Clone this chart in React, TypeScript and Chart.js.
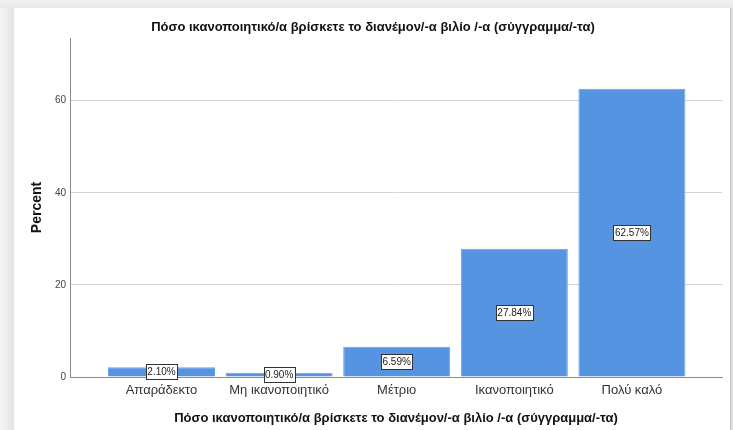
import React, { useEffect, useRef } from "react";
import { Chart, registerables } from "chart.js";

Chart.register(...registerables);

const TITLE = "Πόσο ικανοποιητικό/α βρίσκετε το διανέμον/-α βιλίο /-α (σύγγραμμα/-τα)";
const Y_TITLE = "Percent";
const categories = ["Απαράδεκτο", "Μη ικανοποιητικό", "Μέτριο", "Ικανοποιητικό", "Πολύ καλό"];
const percents = [2.1, 0.9, 6.59, 27.84, 62.57];
const valueLabels = ["2.10%", "0.90%", "6.59%", "27.84%", "62.57%"];
const yTicks = [0, 20, 40, 60];

const FONT = "'Liberation Sans', Arial, sans-serif";

const backgroundPlugin = {
  id: "panelBackground",
  beforeDraw(chart: any) {
    const ctx = chart.ctx;
    const w = chart.width;
    const h = chart.height;
    ctx.save();
    ctx.fillStyle = "#ececec";
    ctx.fillRect(0, 0, w, h);
    const g = ctx.createLinearGradient(0, 0, 14, 0);
    g.addColorStop(0, "#f6f6f6");
    g.addColorStop(1, "#e4e4e4");
    ctx.fillStyle = g;
    ctx.fillRect(0, 8, 14, h - 8);
    const gt = ctx.createLinearGradient(0, 0, 0, 8);
    gt.addColorStop(0, "#f2f2f2");
    gt.addColorStop(1, "#e6e6e6");
    ctx.fillStyle = gt;
    ctx.fillRect(0, 0, w, 8);
    ctx.fillStyle = "#ffffff";
    ctx.fillRect(14, 8, 716, h - 8);
    ctx.fillStyle = "#c4c4c4";
    ctx.fillRect(730, 8, 1, h - 8);
    ctx.fillStyle = "#e2e2e2";
    ctx.fillRect(731, 8, 2, h - 8);
    ctx.restore();
  },
};

const valueLabelPlugin = {
  id: "valueLabels",
  afterDatasetsDraw(chart: any) {
    const ctx = chart.ctx;
    const meta = chart.getDatasetMeta(0);
    ctx.save();
    ctx.font = `10px ${FONT}`;
    ctx.textAlign = "center";
    ctx.textBaseline = "middle";
    meta.data.forEach((bar: any, i: number) => {
      const text = valueLabels[i];
      const cx = bar.x;
      const cy = (bar.y + bar.base) / 2;
      const tw = ctx.measureText(text).width;
      const bw = Math.round(tw + 3);
      const bh = 15;
      const left = Math.round(cx - bw / 2) + 0.5;
      const top = Math.round(cy - bh / 2) + 0.5;
      ctx.fillStyle = "#ffffff";
      ctx.fillRect(left, top, bw, bh);
      ctx.strokeStyle = "#333333";
      ctx.lineWidth = 1;
      ctx.strokeRect(left, top, bw, bh);
      ctx.fillStyle = "#222222";
      ctx.fillText(text, cx, cy + 0.5);
    });
    ctx.restore();
  },
};

export default function App() {
  const ref = useRef<HTMLCanvasElement | null>(null);

  useEffect(() => {
    if (!ref.current) return;
    const chart = new Chart(ref.current, {
      type: "bar",
      data: {
        datasets: [
          {
            label: Y_TITLE,
            data: percents.map((v, i) => ({ x: i, y: v })),
            backgroundColor: "#5694e2",
            borderColor: "#6aa2e8",
            borderWidth: 1,
            barPercentage: 0.91,
            categoryPercentage: 1,
          },
        ],
      },
      options: {
        animation: false,
        responsive: false,
        devicePixelRatio: 1,
        layout: { padding: { left: 24, right: 11, top: 0, bottom: 0 } },
        plugins: {
          legend: { display: false },
          tooltip: { enabled: false },
          title: {
            display: true,
            text: TITLE,
            color: "#111111",
            font: { family: FONT, size: 13, weight: "bold", lineHeight: 1.2 },
            padding: { top: 19.2, bottom: 3.2 },
          },
        },
        scales: {
          x: {
            type: "linear",
            offset: false,
            min: -0.778,
            max: 4.766,
            afterBuildTicks: (scale: any) => {
              scale.ticks = categories.map((_, i) => ({ value: i }));
            },
            afterFit: (scale: any) => {
              scale.height = 53;
            },
            grid: { display: false, drawTicks: false, offset: false },
            border: { display: true, color: "#8a8a8a", width: 1 },
            ticks: {
              autoSkip: false,
              maxRotation: 0,
              padding: 6,
              color: "#333333",
              font: { family: FONT, size: 13 },
              callback: (v: any) => categories[v as number] ?? "",
            },
            title: {
              display: true,
              text: TITLE,
              color: "#111111",
              font: { family: FONT, size: 13, weight: "bold", lineHeight: 1.2 },
              padding: { top: 0, bottom: 4.2 },
            },
          },
          y: {
            min: 0,
            max: 73.6,
            afterBuildTicks: (scale: any) => {
              scale.ticks = yTicks.map((v) => ({ value: v }));
            },
            afterFit: (scale: any) => {
              scale.width = 46;
            },
            grid: {
              drawTicks: false,
              color: (c: any) => (c.tick && c.tick.value === 0 ? "rgba(0,0,0,0)" : "#d4d4d4"),
              lineWidth: 1,
            },
            border: { display: true, color: "#8a8a8a", width: 1 },
            ticks: {
              padding: 4,
              color: "#444444",
              font: { family: FONT, size: 10 },
            },
            title: {
              display: true,
              text: Y_TITLE,
              color: "#111111",
              font: { family: FONT, size: 14, weight: "bold", lineHeight: 1.2 },
              padding: { top: 4.6, bottom: 0 },
            },
          },
        },
      },
      plugins: [backgroundPlugin, valueLabelPlugin],
    } as any);
    return () => chart.destroy();
  }, []);

  return (
    <div style={{ position: "fixed", left: 0, top: 0, width: 733, height: 430 }}>
      <canvas ref={ref} width={733} height={430} style={{ width: 733, height: 430, display: "block" }} />
    </div>
  );
}
